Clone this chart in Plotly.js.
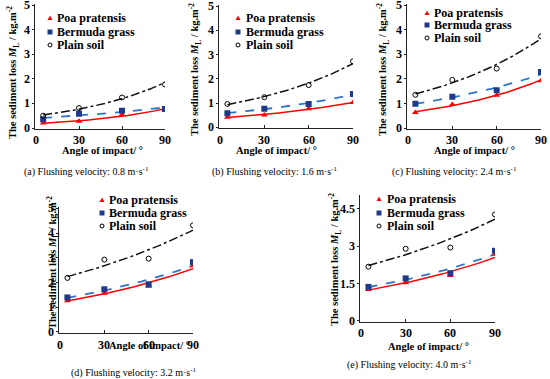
<!DOCTYPE html>
<html>
<head>
<meta charset="utf-8">
<script src="https://cdn.plot.ly/plotly-3.0.1.min.js"></script>
<style>html,body{margin:0;padding:0;background:#fff;}#chart{width:550px;height:379px;}</style>
</head>
<body>
<div id="chart"></div>
<script>
// ---- data ----
const angles = [5, 30, 60, 90];
const seriesNames = ['Poa pratensis', 'Bermuda grass', 'Plain soil'];
const panelLabels = ['(a)', '(b)', '(c)', '(d)', '(e)'];
const velocities = ['0.8', '1.6', '2.4', '3.2', '4.0'];
const xTicks = [0, 30, 60, 90];
const yTicksStd = [0, 1, 2, 3, 4, 5];
const yTicksE = [0, 1.5, 3, 4.5];

const poaA = [0.20, 0.27, 0.54, 0.74];
const bermA = [0.36, 0.58, 0.70, 0.77];
const plainA = [0.50, 0.81, 1.24, 1.77];

const poaB = [0.41, 0.51, 0.76, 1.02];
const bermB = [0.58, 0.76, 0.96, 1.37];
const plainB = [0.96, 1.24, 1.74, 2.72];

const poaC = [0.64, 0.97, 1.34, 1.93];
const bermC = [1.00, 1.28, 1.54, 2.28];
const plainC = [1.36, 1.96, 2.42, 3.73];

const poaD = [1.27, 1.57, 1.85, 2.68];
const bermD = [1.40, 1.73, 1.93, 2.83];
const plainD = [2.19, 2.93, 2.97, 4.32];

const poaE = [1.27, 1.54, 1.83, 2.68];
const bermE = [1.37, 1.71, 1.92, 2.82];
const plainE = [2.18, 2.90, 2.95, 4.28];

const panelData = [
  [poaA, bermA, plainA],
  [poaB, bermB, plainB],
  [poaC, bermC, plainC],
  [poaD, bermD, plainD],
  [poaE, bermE, plainE]
];

// ---- layout geometry (pixels) ----
const W = 550, H = 379;
const px = v => v / W;
const py = v => 1 - v / H;
// [x at 0, x at 90, y at 0, y at 5, x tick label y]
const boxes = [
  [36, 165, 128, 5, 140],
  [220, 353, 127.3, 6, 140],
  [408, 541, 128.3, 5, 140],
  [60, 193, 332, 208.5, 345],
  [361, 495, 321, 196.5, 333]
];
const yMax = 5.06, yMin = -0.04, xMin = -0.6;

const serif = 'Liberation Serif, Times New Roman, serif';
const styles = [
  {mk: {symbol: 'triangle-up', size: 6, color: '#ff0000'}, line: {color: '#ff0000', width: 1.5, dash: 'solid'}},
  {mk: {symbol: 'square', size: 6, color: '#1f3a8a'}, line: {color: '#2e75c6', width: 1.8, dash: 'dash'}},
  {mk: {symbol: 'circle-open', size: 5, color: '#000000', line: {width: 1, color: '#000'}}, line: {color: '#111', width: 1.5, dash: 'dashdot'}}
];

// exponential trendline fit (least squares on ln y)
function expFit(xs, ys) {
  const n = xs.length;
  let sx = 0, sy = 0, sxx = 0, sxy = 0;
  for (let i = 0; i < n; i++) {
    const ly = Math.log(ys[i]);
    sx += xs[i]; sy += ly; sxx += xs[i] * xs[i]; sxy += xs[i] * ly;
  }
  const b = (n * sxy - sx * sy) / (n * sxx - sx * sx);
  const a = Math.exp((sy - b * sx) / n);
  const fx = [], fy = [];
  for (let x = xs[0]; x <= xs[n - 1]; x += 1) { fx.push(x); fy.push(a * Math.exp(b * x)); }
  return {fx, fy};
}

const traces = [];
const layout = {
  width: W, height: H,
  margin: {l: 0, r: 0, t: 0, b: 0},
  paper_bgcolor: '#fff', plot_bgcolor: 'rgba(0,0,0,0)',
  showlegend: false,
  annotations: [], shapes: []
};

const tickFont = {family: serif, size: 12, color: '#000', weight: 'bold'};

panelData.forEach((series, p) => {
  const idx = p === 0 ? '' : String(p + 1);
  const xa = 'x' + idx, ya = 'y' + idx;
  const [x0, x1, yb, yt, xly] = boxes[p];
  const uy = (yb - yt) / 5;
  const ux = (x1 - x0) / 90;
  const yTicks = p === 4 ? yTicksE : yTicksStd;
  layout['xaxis' + idx] = {
    domain: [px(x0 + xMin * ux), px(x1)], range: [xMin, 90], anchor: ya,
    showgrid: false, zeroline: false, showline: true, linecolor: '#222', linewidth: 1,
    ticks: 'inside', ticklen: 3, tickcolor: '#222',
    tickmode: 'array', tickvals: xTicks, showticklabels: false, fixedrange: true
  };
  layout['yaxis' + idx] = {
    domain: [py(yb - yMin * uy), py(yb - yMax * uy)], range: [yMin, yMax], anchor: xa,
    showgrid: false, zeroline: false, showline: true, linecolor: '#222', linewidth: 1,
    ticks: 'outside', ticklen: 2, tickcolor: '#222',
    tickmode: 'array', tickvals: yTicks, showticklabels: false, fixedrange: true
  };
  // tick labels placed through the axes' own scales
  xTicks.forEach(v => layout.annotations.push({
    xref: xa, yref: 'paper', x: v, y: py(xly), text: '<b>' + v + '</b>', showarrow: false,
    xanchor: 'center', yanchor: 'middle', font: tickFont}));
  yTicks.forEach(v => layout.annotations.push({
    xref: 'paper', yref: ya, x: px(x0 - 4), y: v, text: '<b>' + v + '</b>', showarrow: false,
    xanchor: 'right', yanchor: 'middle', font: tickFont}));
  series.forEach((ys, s) => {
    const f = expFit(angles, ys);
    traces.push({x: f.fx, y: f.fy, xaxis: xa, yaxis: ya, mode: 'lines',
      line: styles[s].line, hoverinfo: 'skip'});
  });
  series.forEach((ys, s) => {
    traces.push({x: angles, y: ys, xaxis: xa, yaxis: ya, mode: 'markers',
      name: seriesNames[s], marker: styles[s].mk});
  });
});

const ann = (x, y, text, o) => Object.assign({
  xref: 'paper', yref: 'paper', x: px(x), y: py(y), text: text, showarrow: false,
  xanchor: 'center', yanchor: 'middle',
  font: {family: serif, size: 10, color: '#000'}
}, o || {});

const yTitle = '<b>The sediment loss <i>M</i><sub>L</sub> / kg.m<sup>-2</sup></b>';
const xTitle = '<b>Angle of impact/ °</b>';
const titleFont = {family: serif, size: 10.5, color: '#000'};
// [yTitle x, yTitle y, xTitle x, xTitle y, caption x, caption y]
const titlePos = [
  [13, 73, 102, 151, 86, 172],
  [195, 70, 276, 151, 275, 172],
  [383, 70, 474, 151, 454, 172],
  [53, 263, 149, 345, 134, 372],
  [335, 260, 428, 346, 409, 364]
];
titlePos.forEach((t, p) => {
  layout.annotations.push(ann(t[0], t[1], yTitle, {textangle: -90, font: titleFont}));
  layout.annotations.push(ann(t[2], t[3], xTitle, {font: titleFont}));
  layout.annotations.push(ann(t[4], t[5],
    panelLabels[p] + ' Flushing velocity: ' + velocities[p] + ' m·s<sup>-1</sup>'));
});

// legends: marker x, text x, row ys
const legendPos = [
  [50, 55, [18, 32, 45]],
  [238, 244, [18, 32, 45]],
  [427, 432, [13, 25, 38]],
  [102, 107, [200, 213, 226]],
  [379, 385, [199, 213, 226]]
];
const legFont = {family: serif, size: 12, color: '#000'};
legendPos.forEach(l => {
  const [mx, tx, rows] = l;
  seriesNames.forEach((nm, s) => {
    const cy = rows[s];
    layout.annotations.push(ann(tx, cy, '<b>' + nm + '</b>', {xanchor: 'left', font: legFont}));
    if (s === 0) {
      layout.shapes.push({type: 'path', xref: 'paper', yref: 'paper',
        path: 'M' + px(mx - 2.5) + ',' + py(cy + 2) + ' L' + px(mx + 2.5) + ',' + py(cy + 2) +
              ' L' + px(mx) + ',' + py(cy - 2.5) + ' Z',
        fillcolor: '#ff0000', line: {width: 0}});
    } else if (s === 1) {
      layout.shapes.push({type: 'rect', xref: 'paper', yref: 'paper',
        x0: px(mx - 2.5), x1: px(mx + 2.5), y0: py(cy + 2.5), y1: py(cy - 2.5),
        fillcolor: '#1f3a8a', line: {width: 0}});
    } else {
      layout.shapes.push({type: 'circle', xref: 'paper', yref: 'paper',
        x0: px(mx - 2), x1: px(mx + 2), y0: py(cy + 2), y1: py(cy - 2),
        fillcolor: 'rgba(0,0,0,0)', line: {width: 1, color: '#000'}});
    }
  });
});

Plotly.newPlot('chart', traces, layout, {staticPlot: true, displayModeBar: false});
</script>
</body>
</html>
